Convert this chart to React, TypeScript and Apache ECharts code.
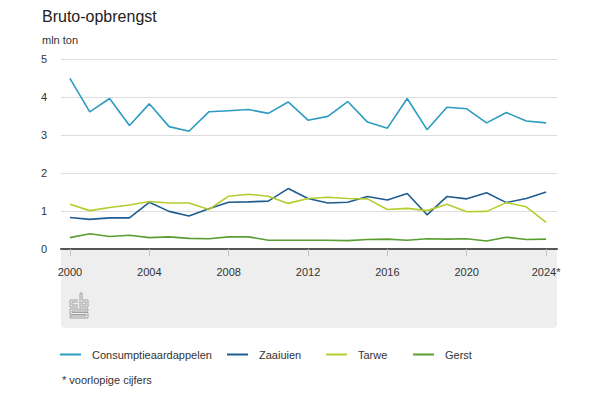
import React, { useEffect, useRef } from "react";
import * as echarts from "echarts";

const years = [2000, 2001, 2002, 2003, 2004, 2005, 2006, 2007, 2008, 2009, 2010, 2011, 2012, 2013, 2014, 2015, 2016, 2017, 2018, 2019, 2020, 2021, 2022, 2023, 2024];
const consumptieaardappelen = [4.49, 3.61, 3.96, 3.25, 3.82, 3.22, 3.1, 3.61, 3.64, 3.67, 3.57, 3.87, 3.39, 3.49, 3.88, 3.34, 3.18, 3.96, 3.14, 3.73, 3.69, 3.32, 3.59, 3.37, 3.32];
const zaaiuien = [0.83, 0.78, 0.82, 0.82, 1.23, 0.99, 0.87, 1.06, 1.23, 1.24, 1.26, 1.59, 1.33, 1.21, 1.23, 1.38, 1.29, 1.46, 0.9, 1.38, 1.32, 1.48, 1.22, 1.33, 1.5];
const tarwe = [1.18, 1.01, 1.09, 1.16, 1.25, 1.21, 1.21, 1.04, 1.39, 1.44, 1.39, 1.2, 1.33, 1.36, 1.33, 1.32, 1.04, 1.07, 1.01, 1.18, 0.98, 0.99, 1.22, 1.11, 0.7];
const gerst = [0.3, 0.4, 0.33, 0.36, 0.3, 0.32, 0.28, 0.27, 0.32, 0.32, 0.23, 0.23, 0.23, 0.23, 0.22, 0.25, 0.26, 0.23, 0.27, 0.26, 0.27, 0.21, 0.31, 0.25, 0.26];
const xTicks = [2000, 2004, 2008, 2012, 2016, 2020, 2024];
const seriesNames = ["Consumptieaardappelen", "Zaaiuien", "Tarwe", "Gerst"];
const seriesColors = ["#2b9cc0", "#1f5c92", "#b4cc2c", "#5a9e32"];

const logoPath =
  "M8,7 H0 V14 H8 M8,9 H2 V12 H8 " +
  "M10,0 H12 V7 H18 V14 H10 Z M12,9 H16 V12 H12 Z " +
  "M0,16 H18 V18 H2 V19.5 H18 V25 H0 V23 H16 V21.5 H0 Z";

let registered = false;

export default function App() {
  const ref = useRef<HTMLDivElement>(null);
  useEffect(() => {
    if (!ref.current) return;
    if (!registered) {
      echarts.graphic.registerShape("cbsLogo", echarts.graphic.extendPath(logoPath, {}));
      registered = true;
    }
    const chart = echarts.init(ref.current, null, { renderer: "svg" });
    const font = "Arial, 'Liberation Sans', Helvetica, sans-serif";
    const allData = [consumptieaardappelen, zaaiuien, tarwe, gerst];
    const legendLefts = [60, 227, 326, 413];
    chart.setOption({
      animation: false,
      backgroundColor: "#ffffff",
      textStyle: { fontFamily: font },
      title: {
        text: "Bruto-opbrengst",
        left: 42,
        top: 8,
        padding: 0,
        textStyle: { fontSize: 16, fontWeight: "normal", color: "#222", fontFamily: font },
      },
      grid: { left: 61, right: 43, top: 59, bottom: 151, containLabel: false },
      legend: seriesNames.map((name, i) => ({
        data: [name],
        left: legendLefts[i],
        top: 349,
        padding: 0,
        icon: "rect",
        itemWidth: 21,
        itemHeight: 2,
        selectedMode: false,
        textStyle: { fontSize: 11, color: "#333", fontFamily: font, padding: [0, 0, 0, 6] },
      })),
      xAxis: {
        type: "value",
        min: 1999.55,
        max: 2024.55,
        axisLine: { show: true, onZero: false, lineStyle: { color: "#555", width: 2 } },
        axisTick: { show: true, customValues: xTicks, length: 7, lineStyle: { color: "#c4c4c4" } },
        axisLabel: {
          customValues: xTicks,
          formatter: (v: number) => (v === 2024 ? "2024*" : String(v)),
          margin: 17,
          fontSize: 11,
          color: "#333",
          fontFamily: font,
        },
        splitLine: { show: false },
      },
      yAxis: {
        type: "value",
        min: 0,
        max: 5,
        interval: 1,
        axisLine: { show: false },
        axisTick: { show: false },
        axisLabel: { margin: 14, fontSize: 11, color: "#333", fontFamily: font },
        splitLine: { lineStyle: { color: "#dddddd", width: 1 } },
      },
      series: seriesNames.map((name, i) => ({
        name,
        type: "line",
        data: years.map((y, j) => [y, allData[i][j]]),
        showSymbol: false,
        symbol: "none",
        color: seriesColors[i],
        lineStyle: { width: 1.6, color: seriesColors[i] },
        z: 3,
      })),
      graphic: [
        {
          type: "rect",
          z: -10,
          shape: { x: 61, y: 249, width: 496, height: 79, r: 4 },
          style: { fill: "#eeeeee" },
        },
        {
          type: "cbsLogo",
          x: 70,
          y: 293,
          z: 1,
          style: { fill: "none", stroke: "#a0a0a0", lineWidth: 1 },
        },
        {
          type: "text",
          x: 42,
          y: 40,
          style: { text: "mln ton", fontSize: 11, fill: "#333", fontFamily: font, verticalAlign: "middle" },
        },
        {
          type: "text",
          x: 62,
          y: 380,
          style: { text: "* voorlopige cijfers", fontSize: 11, fill: "#333", fontFamily: font, verticalAlign: "middle" },
        },
      ],
    });
    return () => chart.dispose();
  }, []);
  return <div ref={ref} style={{ position: "fixed", left: 0, top: 0, width: 600, height: 400 }} />;
}
